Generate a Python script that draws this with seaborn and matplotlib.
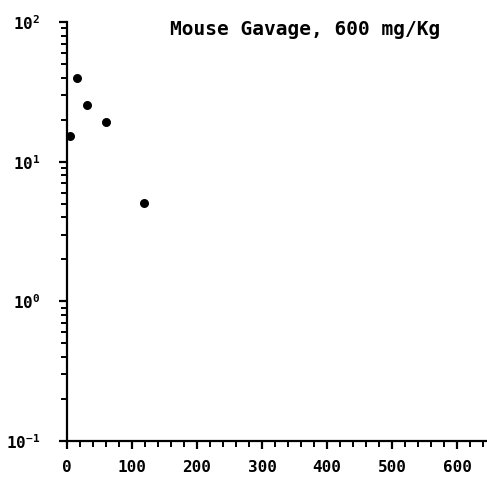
import matplotlib
matplotlib.use("Agg")
import matplotlib.pyplot as plt
import matplotlib.ticker as tkr
import pandas as pd
import seaborn as sns

# Values
time_min = [5, 16, 30, 60, 118]
concentration = [15.3, 40, 25.5, 19.3, 5.1]
x_ticks = [0, 100, 200, 300, 400, 500, 600]
title = "Mouse Gavage, 600 mg/Kg"

sns.set_style("ticks")
plt.rcParams["font.family"] = ["DejaVu Sans Mono"]
plt.rcParams["font.weight"] = "bold"
plt.rcParams["mathtext.default"] = "regular"

df = pd.DataFrame({"Time": time_min, "Conc": concentration})

fig = plt.figure(figsize=(4.87, 4.78), dpi=100)
ax = fig.add_axes([0.1376, 0.0774, 0.8624, 0.8766])
sns.scatterplot(data=df, x="Time", y="Conc", ax=ax, color="black", s=42,
                edgecolor="black", linewidth=0, legend=False)

ax.set_yscale("log")
ax.set_ylim(0.1, 100)
ax.set_xlim(0, 646)
ax.set_xticks(x_ticks)
ax.xaxis.set_minor_locator(tkr.MultipleLocator(20))
ax.yaxis.set_minor_locator(tkr.LogLocator(base=10, subs=range(2, 10)))
ax.yaxis.set_minor_formatter(tkr.NullFormatter())
ax.set_xlabel("")
ax.set_ylabel("")

for side in ["top", "right"]:
    ax.spines[side].set_visible(False)
for side in ["left", "bottom"]:
    ax.spines[side].set_linewidth(1.6)
    ax.spines[side].set_color("black")

ax.tick_params(axis="both", which="major", length=6, width=1.6, color="black",
               labelsize=11.5, labelcolor="black")
ax.tick_params(axis="both", which="minor", length=4, width=1.4, color="black")
ax.tick_params(axis="y", which="major", pad=13)
ax.tick_params(axis="x", which="major", pad=8)
for lab in ax.get_xticklabels() + ax.get_yticklabels():
    lab.set_fontweight("bold")

ax.text(0.567, 0.981, title, transform=ax.transAxes, ha="center", va="center",
        fontsize=14, fontweight="bold", color="black")

fig.savefig("out.png", dpi=100)
